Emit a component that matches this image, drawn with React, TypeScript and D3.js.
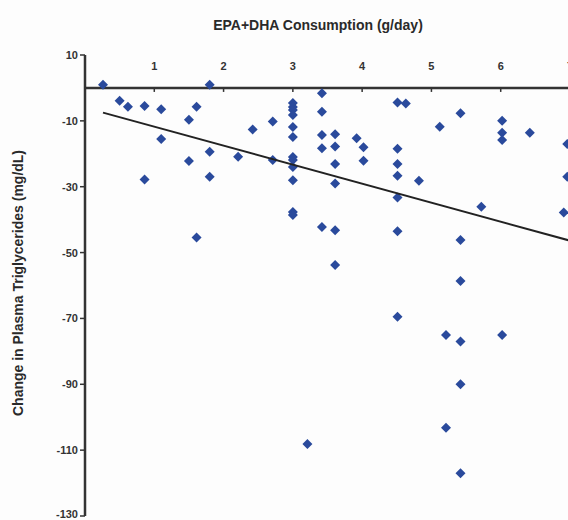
import * as d3 from 'd3'

const xTicks = [1, 2, 3, 4, 5, 6, 7]
const yTicks = [10, -10, -30, -50, -70, -90, -110, -130]

const doseX = [
  0.26, 0.5, 0.62, 0.86, 1.1, 1.1, 0.86, 1.5, 1.5, 1.61, 1.61, 1.8, 1.8, 1.8, 2.21, 2.42, 2.71, 2.71,
  3, 3, 3, 3, 3, 3, 3, 3, 3, 3, 3, 3,
  3.42, 3.42, 3.42, 3.42, 3.42, 3.61, 3.61, 3.61, 3.61, 3.61, 3.61, 3.92, 4.02, 4.02,
  4.51, 4.63, 4.51, 4.51, 4.51, 4.51, 4.51, 4.51, 4.82, 5.12,
  5.42, 5.42, 5.42, 5.42, 5.42, 5.42, 5.72, 6.02, 6.02, 6.02, 6.02, 6.42, 6.96, 6.96, 6.91,
  5.21, 5.21, 3.21,
]
const changeY = [
  1, -3.9, -5.7, -5.5, -6.5, -15.5, -27.8, -9.7, -22.2, -5.7, -45.4, 1, -19.4, -27, -20.9, -12.6, -10.2, -21.9,
  -4.6, -5.8, -6.7, -8.2, -11.9, -14.9, -21, -21.9, -24, -28, -37.7, -38.6,
  -1.6, -7.2, -14.3, -18.3, -42.2, -14.1, -17.8, -23.1, -29, -43.2, -53.8, -15.3, -18, -22.1,
  -4.4, -4.7, -18.5, -23.1, -26.7, -33.3, -43.5, -69.5, -28.2, -11.8,
  -7.7, -46.2, -58.6, -77, -90, -117, -36.1, -10, -13.6, -15.8, -75, -13.6, -17, -27, -37.8,
  -75, -103.2, -108.1,
]
const trendX = [0.26, 7]
const trendIntercept = -6.0
const trendSlope = -5.77

const W = 568
const H = 520
const font = 'Liberation Sans, Arial, sans-serif'

export default function App() {
  const x = d3.scaleLinear().domain([0, 7]).range([85, 570])
  const y = d3.scaleLinear().domain([10, -130]).range([55, 516])
  const r = 5
  const diamond = `M0,${-r}L${r},0L0,${r}L${-r},0Z`
  const line = d3
    .line<number>()
    .x((d) => x(d))
    .y((d) => y(trendIntercept + trendSlope * d))

  return (
    <svg width={W} height={H} style={{ position: 'absolute', left: 0, top: 0, background: '#fdfdfd' }}>
      <text x={318} y={30} textAnchor="middle" fontFamily={font} fontSize={14} fontWeight={600} fill="#2a2a2a">
        EPA+DHA Consumption (g/day)
      </text>
      <text
        transform={`translate(23,${283}) rotate(-90)`}
        textAnchor="middle"
        fontFamily={font}
        fontSize={14}
        fontWeight={600}
        fill="#2a2a2a"
      >
        Change in Plasma Triglycerides (mg/dL)
      </text>
      <line x1={x(0)} x2={x(0)} y1={y(10)} y2={y(-130)} stroke="#333" strokeWidth={2.5} />
      {yTicks.map((t) => (
        <g key={t}>
          <line x1={x(0) - 5} x2={x(0)} y1={y(t)} y2={y(t)} stroke="#333" strokeWidth={1.5} />
          <text x={x(0) - 7} y={Math.min(y(t) + 4, H - 2)} textAnchor="end" fontFamily={font} fontSize={11} fontWeight={700} fill="#333">
            {t}
          </text>
        </g>
      ))}
      <line x1={x(0)} x2={W} y1={y(0)} y2={y(0)} stroke="#333" strokeWidth={2.5} />
      {xTicks.map((t) => (
        <g key={t}>
          <line x1={x(t)} x2={x(t)} y1={y(0)} y2={y(0) + 4} stroke="#333" strokeWidth={1.5} />
          <text x={x(t)} y={y(0) - 18} textAnchor="middle" fontFamily={font} fontSize={11} fontWeight={700} fill="#333">
            {t}
          </text>
        </g>
      ))}
      {doseX.map((d, i) => (
        <path key={i} d={diamond} transform={`translate(${x(d)},${y(changeY[i])})`} fill="#2a4a9c" />
      ))}
      <path d={line(trendX) ?? ''} fill="none" stroke="#222" strokeWidth={2} />
    </svg>
  )
}
